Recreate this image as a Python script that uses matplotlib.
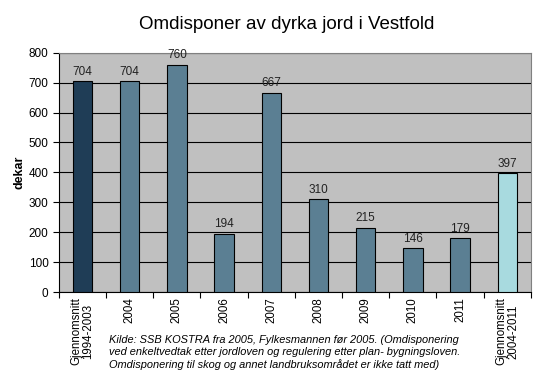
import matplotlib
matplotlib.use("Agg")
import matplotlib.pyplot as plt

categories = ["Gjennomsnitt\n1994-2003", "2004", "2005", "2006", "2007", "2008",
              "2009", "2010", "2011", "Gjennomsnitt\n2004-2011"]
values = [704, 704, 760, 194, 667, 310, 215, 146, 179, 397]
colors = ["#1F3D56"] + ["#5B7F93"] * 8 + ["#A8DADF"]

plt.rcParams['font.family'] = ['Liberation Sans', 'DejaVu Sans']

fig = plt.figure(figsize=(5.4, 3.78), dpi=100)
ax = fig.add_axes([0.109, 0.2275, 0.874, 0.633])
ax.set_facecolor("#C0C0C0")
x = list(range(len(categories)))
bars = ax.bar(x, values, width=0.41, color=colors, edgecolor="black", linewidth=0.8, zorder=3)
for xi, v in zip(x, values):
    ax.text(xi, v + 12, str(v), ha="center", va="bottom", fontsize=8.5, color="#222222", zorder=4)
ax.set_ylim(0, 800)
ax.set_xlim(-0.5, len(categories) - 0.5)
ax.set_yticks(range(0, 801, 100))
ax.yaxis.grid(True, color="black", linewidth=0.8, zorder=0)
ax.set_axisbelow(True)
ax.set_xticks([i - 0.5 for i in range(len(categories) + 1)], minor=False)
ax.set_xticklabels([])
ax.set_xticks(x, minor=True)
ax.set_xticklabels(categories, minor=True, rotation=90, fontsize=8.3, linespacing=0.95)
ax.tick_params(axis="x", which="minor", length=0, pad=4)
ax.tick_params(axis="x", which="major", length=4, direction="out")
ax.tick_params(axis="y", labelsize=8.5, length=4)
for s in ["top", "right"]:
    ax.spines[s].set_color("#808080")
ax.spines["left"].set_color("black")
ax.spines["bottom"].set_color("black")
ax.set_ylabel("dekar", fontsize=9, fontweight="bold", labelpad=2)
fig.text(0.53, 0.935, "Omdisponer av dyrka jord i Vestfold", ha="center", va="center", fontsize=13.5)
fig.text(0.202, 0.115,
         "Kilde: SSB KOSTRA fra 2005, Fylkesmannen før 2005. (Omdisponering\n"
         "ved enkeltvedtak etter jordloven og regulering etter plan- bygningsloven.\n"
         "Omdisponering til skog og annet landbruksområdet er ikke tatt med)",
         ha="left", va="top", fontsize=7.9, style="italic", linespacing=1.25)
fig.savefig("out.png", dpi=100, facecolor="white")
